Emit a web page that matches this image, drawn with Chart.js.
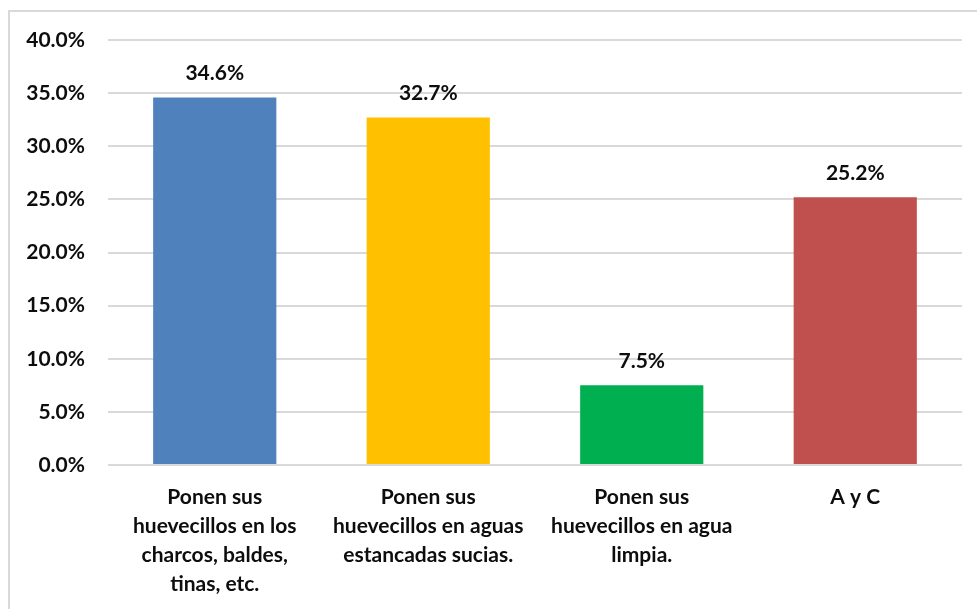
<!DOCTYPE html>
<html>
<head>
<meta charset="utf-8">
<script src="https://cdn.jsdelivr.net/npm/chart.js@4/dist/chart.umd.min.js"></script>
<style>
  html, body { margin: 0; padding: 0; background: #fff; overflow: hidden; }
  #wrap { position: relative; width: 977px; height: 609px; overflow: hidden; }
  #frame { position: absolute; left: 8px; top: 10px; width: 1200px; height: 800px;
           border: 2px solid #d9d9d9; box-sizing: border-box; }
  canvas { position: absolute; left: 0; top: 0; }
</style>
</head>
<body>
<div id="wrap">
  <div id="frame"></div>
  <canvas id="c" width="977" height="609"></canvas>
</div>
<script>
const categories = [
  ["Ponen sus", "huevecillos en los", "charcos, baldes,", "tinas, etc."],
  ["Ponen sus", "huevecillos en aguas", "estancadas sucias."],
  ["Ponen sus", "huevecillos en agua", "limpia."],
  ["A y C"]
];
const values = [34.6, 32.7, 7.5, 25.2];
const barColors = ["#4F81BD", "#FFC000", "#00B050", "#C0504D"];
const yTicks = [0, 5, 10, 15, 20, 25, 30, 35, 40];

const FONT = "Lato, 'Open Sans', sans-serif";

// Writes each bar's value just above its top edge
const valueLabels = {
  id: "valueLabels",
  afterDatasetsDraw(chart) {
    const ctx = chart.ctx;
    const meta = chart.getDatasetMeta(0);
    ctx.save();
    ctx.font = "bold 21px " + FONT;
    ctx.fillStyle = "#0d0d0d";
    ctx.textAlign = "center";
    ctx.textBaseline = "middle";
    meta.data.forEach((bar, i) => {
      ctx.fillText(values[i].toFixed(1) + "%", bar.x, bar.y - 24);
    });
    ctx.restore();
  }
};

new Chart(document.getElementById("c"), {
  type: "bar",
  data: {
    labels: categories,
    datasets: [{
      data: values,
      backgroundColor: barColors,
      borderWidth: 0,
      categoryPercentage: 1,
      barPercentage: 0.577
    }]
  },
  options: {
    responsive: false,
    animation: false,
    layout: { padding: { top: 40, right: 15, bottom: 0, left: 0 } },
    plugins: { legend: { display: false }, tooltip: { enabled: false } },
    scales: {
      y: {
        min: 0,
        max: 40,
        afterBuildTicks(scale) { scale.ticks = yTicks.map(v => ({ value: v })); },
        afterFit(scale) { scale.width = 108; },
        border: { display: false },
        grid: { color: "#d9d9d9", lineWidth: 2, drawTicks: false },
        ticks: {
          padding: 23,
          color: "#0d0d0d",
          font: { family: FONT, size: 21, weight: "bold" },
          callback: v => v.toFixed(1) + "%"
        }
      },
      x: {
        afterFit(scale) { scale.height = 144; },
        border: { display: false },
        grid: { display: false, drawTicks: false },
        ticks: {
          padding: 18,
          color: "#0d0d0d",
          maxRotation: 0,
          autoSkip: false,
          font: { family: FONT, size: 21, weight: "bold", lineHeight: 1.38 }
        }
      }
    }
  },
  plugins: [valueLabels]
});
</script>
</body>
</html>
